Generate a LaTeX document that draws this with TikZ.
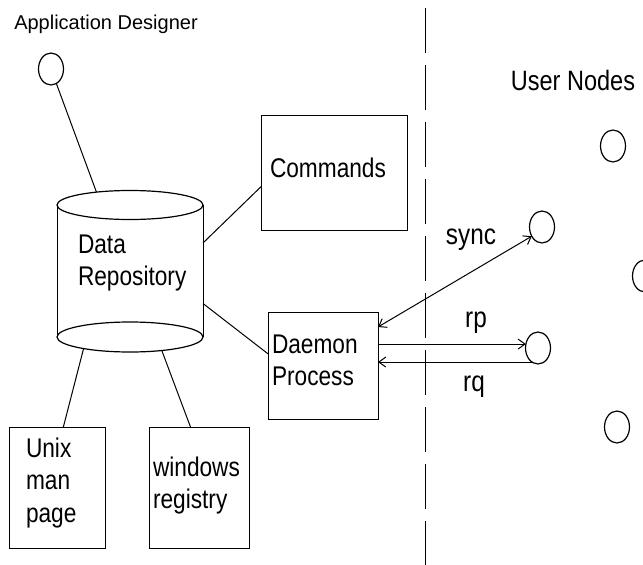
\documentclass[tikz,border=0pt]{standalone}
\usepackage{fontspec}
\setmainfont{Liberation Sans}[FakeStretch=0.84]
\newfontfamily\titlefont{Liberation Sans}
\usetikzlibrary{shapes.geometric,arrows.meta}

\begin{document}
\begin{tikzpicture}[x=1pt,y=-1pt,
    box/.style={draw=black,line width=1pt,rectangle,align=left},
    actor/.style={draw=black,line width=1.2pt,ellipse,minimum width=25pt,minimum height=32pt},
    link/.style={black,line width=1pt},
    msg/.style={black,line width=1pt,>={Straight Barb[length=7pt,width=10pt]}},
    txt/.style={font=\fontsize{27}{32.5}\selectfont,text height=20pt}]
\useasboundingbox (0,0) rectangle (643,565);
\tikzstyle{every node}+=[inner sep=0pt,outer sep=0pt]
% designer and the repository
\node (adlbl) [font=\titlefont\fontsize{20}{24}\selectfont] at (106,24) {Application Designer};
\node [actor] (ad) at (51,69) {};
\node [txt,text depth=56pt,minimum width=146pt,minimum height=132pt,text width=104pt,align=left] (dr) at (130,271) {Data\\Repository};
\node [actor,minimum width=146pt,minimum height=29pt] (drtop) at (dr.north) {};
\node [actor,minimum width=146pt,minimum height=30pt] (drbot) at (dr.south) {};
\draw [link] (dr.north west) -- (dr.south west);
\draw [link] (dr.north east) -- (dr.south east);
% boxes
\node [box,txt,text depth=11pt,minimum width=146pt,minimum height=115pt,text width=128pt] (cm) at (334,172.5) {Commands};
\node [box,txt,text depth=45pt,minimum width=110pt,minimum height=107pt,text width=102pt] (dp) at (323,365.5) {Daemon\\Process};
\node [box,txt,text depth=81pt,minimum width=96pt,minimum height=121pt,text width=62pt] (ub) at (57,487.5) {Unix\\man\\page};
\node [box,txt,text depth=43pt,minimum width=100pt,minimum height=121pt,text width=92pt] (wr) at (199,487.5) {windows\\registry};
\draw [link] (ad) -- (drtop.159);
\draw [link] (dr.21) -- (cm.191);
\draw [link] (dr.336) -- (dp.168);
\draw [link] (drbot.194) -- (ub.84);
\draw [link] (drbot.337) -- (wr.98);
% boundary
\draw [black,line width=1pt,dash pattern=on 45pt off 12pt] (425,8) -- (425,565);
% user side
\node (unlbl) [font=\fontsize{28}{32}\selectfont] at (573,80) {User Nodes};
\node [actor] (u1) at (613,146) {};
\node [actor] (u2) at (542,227) {};
\node [actor] (u3) at (538,348) {};
\node [actor] (u4) at (645,276) {};
\node [actor] (u5) at (617,427) {};
\draw [msg,<->] (u2.222) -- (dp.35);
\node (lsync) [font=\fontsize{29}{32}\selectfont] at (471,240) {sync};
\draw [msg,->] (dp.east |- u3.162) -- (u3.162);
\node (lrp) [font=\fontsize{29}{32}\selectfont] at (476,323) {rp};
\draw [msg,->] (u3.247) -- (dp.east |- u3.247);
\node (lrq) [font=\fontsize{29}{32}\selectfont] at (474,387) {rq};
\end{tikzpicture}
\end{document}
